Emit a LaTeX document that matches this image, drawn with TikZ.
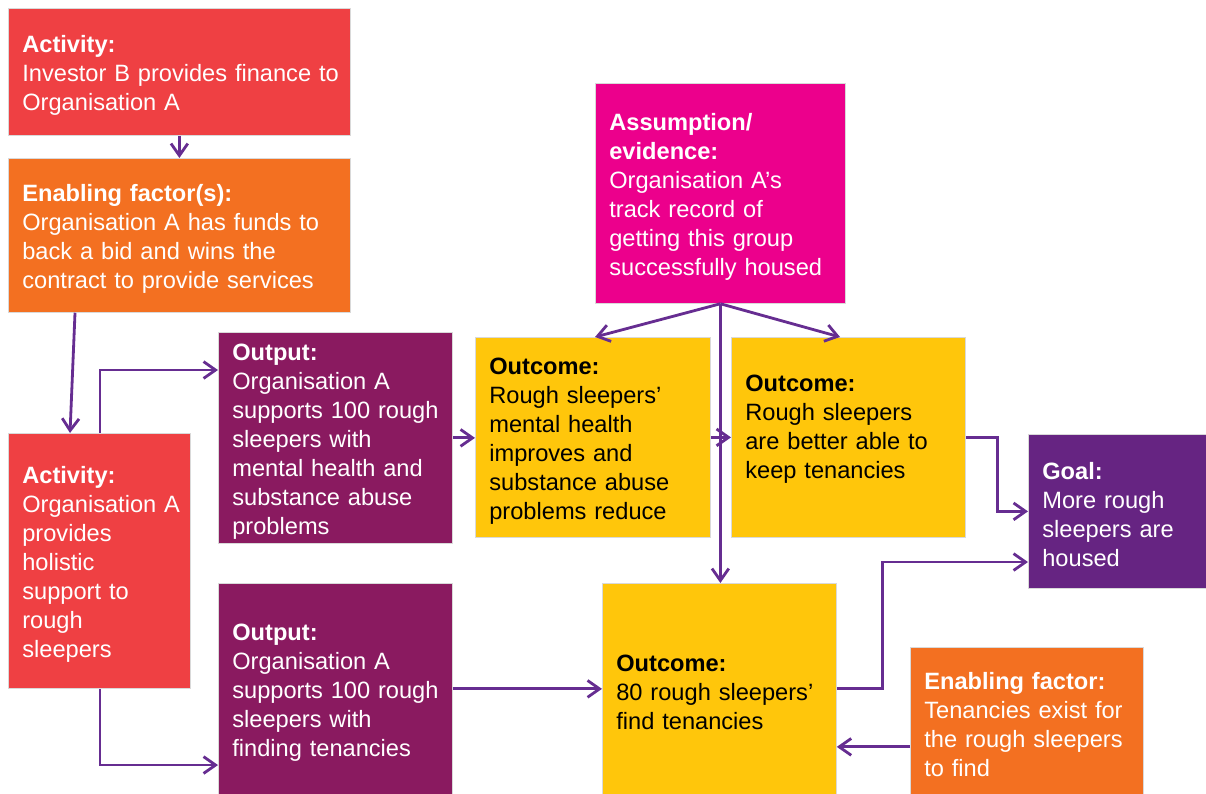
\documentclass[tikz,border=0pt]{standalone}
\usepackage{fontspec}
\setmainfont{Liberation Sans}
\usepackage{tikz}
\usetikzlibrary{arrows.meta, calc, positioning}
\usepackage{xcolor}
\definecolor{actred}{HTML}{EF4043}
\definecolor{enborange}{HTML}{F37021}
\definecolor{assmag}{HTML}{EC008C}
\definecolor{outplum}{HTML}{8A1A60}
\definecolor{outcyel}{HTML}{FFC60B}
\definecolor{goalpurp}{HTML}{662482}
\definecolor{arrpurp}{HTML}{662D91}

\begin{document}
\begin{tikzpicture}[x=0.025cm, y=-0.025cm,
  box/.style={rectangle, anchor=north west, draw=black!15, line width=0.5pt,
    text=white, inner xsep=0.35cm, inner ysep=0pt,
    font=\fontsize{16.8pt}{20.6pt}\selectfont,
    execute at begin node={\rightskip=0pt plus 1fil minus 1cm\relax},
    execute at end node={\endgraf\kern-0.18cm}},
  ybox/.style={box, fill=outcyel, text=black},
  arr/.style={draw=arrpurp, line width=2pt, -{Straight Barb[length=0.3cm, width=0.42cm, line width=2pt]}}]

\useasboundingbox (0,0) rectangle (1206,794);

% 左列ノード
\node (act1) [box, fill=actred, text width=7.85cm, minimum height=3.175cm] at (8,8)
  {\textbf{Activity:}\\Investor B provides finance to\\Organisation A};
\node (enab1) [box, fill=enborange, text width=7.85cm, minimum height=3.85cm] at (8,158)
  {\textbf{Enabling factor(s):}\\Organisation A has funds to\\back a bid and wins the\\contract to provide services};
\node (act2) [box, fill=actred, text width=3.85cm, minimum height=6.375cm] at (8,433)
  {\textbf{Activity:}\\Organisation A\\provides\\holistic\\support to\\rough\\sleepers};

% 出力ノード
\node (out1) [box, fill=outplum, text width=5.15cm, minimum height=5.275cm] at (218,332)
  {\textbf{Output:}\\Organisation A\\supports 100 rough\\sleepers with\\mental health and\\substance abuse\\problems};
\node (out2) [box, fill=outplum, text width=5.15cm, minimum height=5.275cm] at (218,583)
  {\textbf{Output:}\\Organisation A\\supports 100 rough\\sleepers with\\finding tenancies};

% 前提ノード
\node (assum) [box, fill=assmag, text width=5.55cm, minimum height=5.5cm] at (595,83)
  {\textbf{Assumption/}\\\textbf{evidence:}\\Organisation A’s\\track record of\\getting this group\\successfully housed};

% 成果ノード
\node (outc1) [ybox, text width=5.175cm, minimum height=5cm] at (475,337)
  {\textbf{Outcome:}\\Rough sleepers’\\mental health\\improves and\\substance abuse\\problems reduce};
\node (outc2) [ybox, text width=5.15cm, minimum height=5cm] at (731,337)
  {\textbf{Outcome:}\\Rough sleepers\\are better able to\\keep tenancies\\ \mbox{}};
\node (outc3) [ybox, text width=5.15cm, minimum height=5.275cm] at (602,583)
  {\textbf{Outcome:}\\80 rough sleepers’\\find tenancies};

% 右側ノード
\node (goal) [box, fill=goalpurp, text width=3.75cm, minimum height=3.85cm] at (1028,434)
  {\textbf{Goal:}\\More rough\\sleepers are\\housed};
\node (enab2) [box, fill=enborange, text width=5.125cm, minimum height=3.675cm] at (910,647)
  {\textbf{Enabling factor:}\\Tenancies exist for\\the rough sleepers\\to find};

% 矢印
\draw[arr] (act1) -- (enab1);
\draw[arr] ([xshift=1.675cm]enab1.south west) -- ([xshift=1.55cm]act2.north west);
\draw[arr] ([xshift=2.3cm]act2.north west) |- ([yshift=-0.95cm]out1.north west);
\draw[arr] ([xshift=2.3cm]act2.south west) |- ([yshift=-4.55cm]out2.north west);
\draw[arr] (out1.east) -- (out1.east -| outc1.west);
\draw[arr] (outc1.east) -- (outc1.east -| outc2.west);
\draw[arr] (assum.south) -- ([xshift=3cm]outc1.north west);
\draw[arr] (assum.south) -- ([xshift=2.725cm]outc2.north west);
\draw[arr] (assum.south) -- (assum.south |- outc3.north);
\draw[arr] (out2.east |- outc3.west) -- (outc3.west);
\draw[arr] (outc2.east) -- ++(0.8cm,0) |- (goal.west);
\draw[arr] (outc3.east) -- ++(1.15cm,0) |- ([yshift=-3.2cm]goal.north west);
\draw[arr] ([yshift=-0.65cm]enab2.west) -- ([yshift=-0.65cm]enab2.west -| outc3.east);

\end{tikzpicture}
\end{document}
